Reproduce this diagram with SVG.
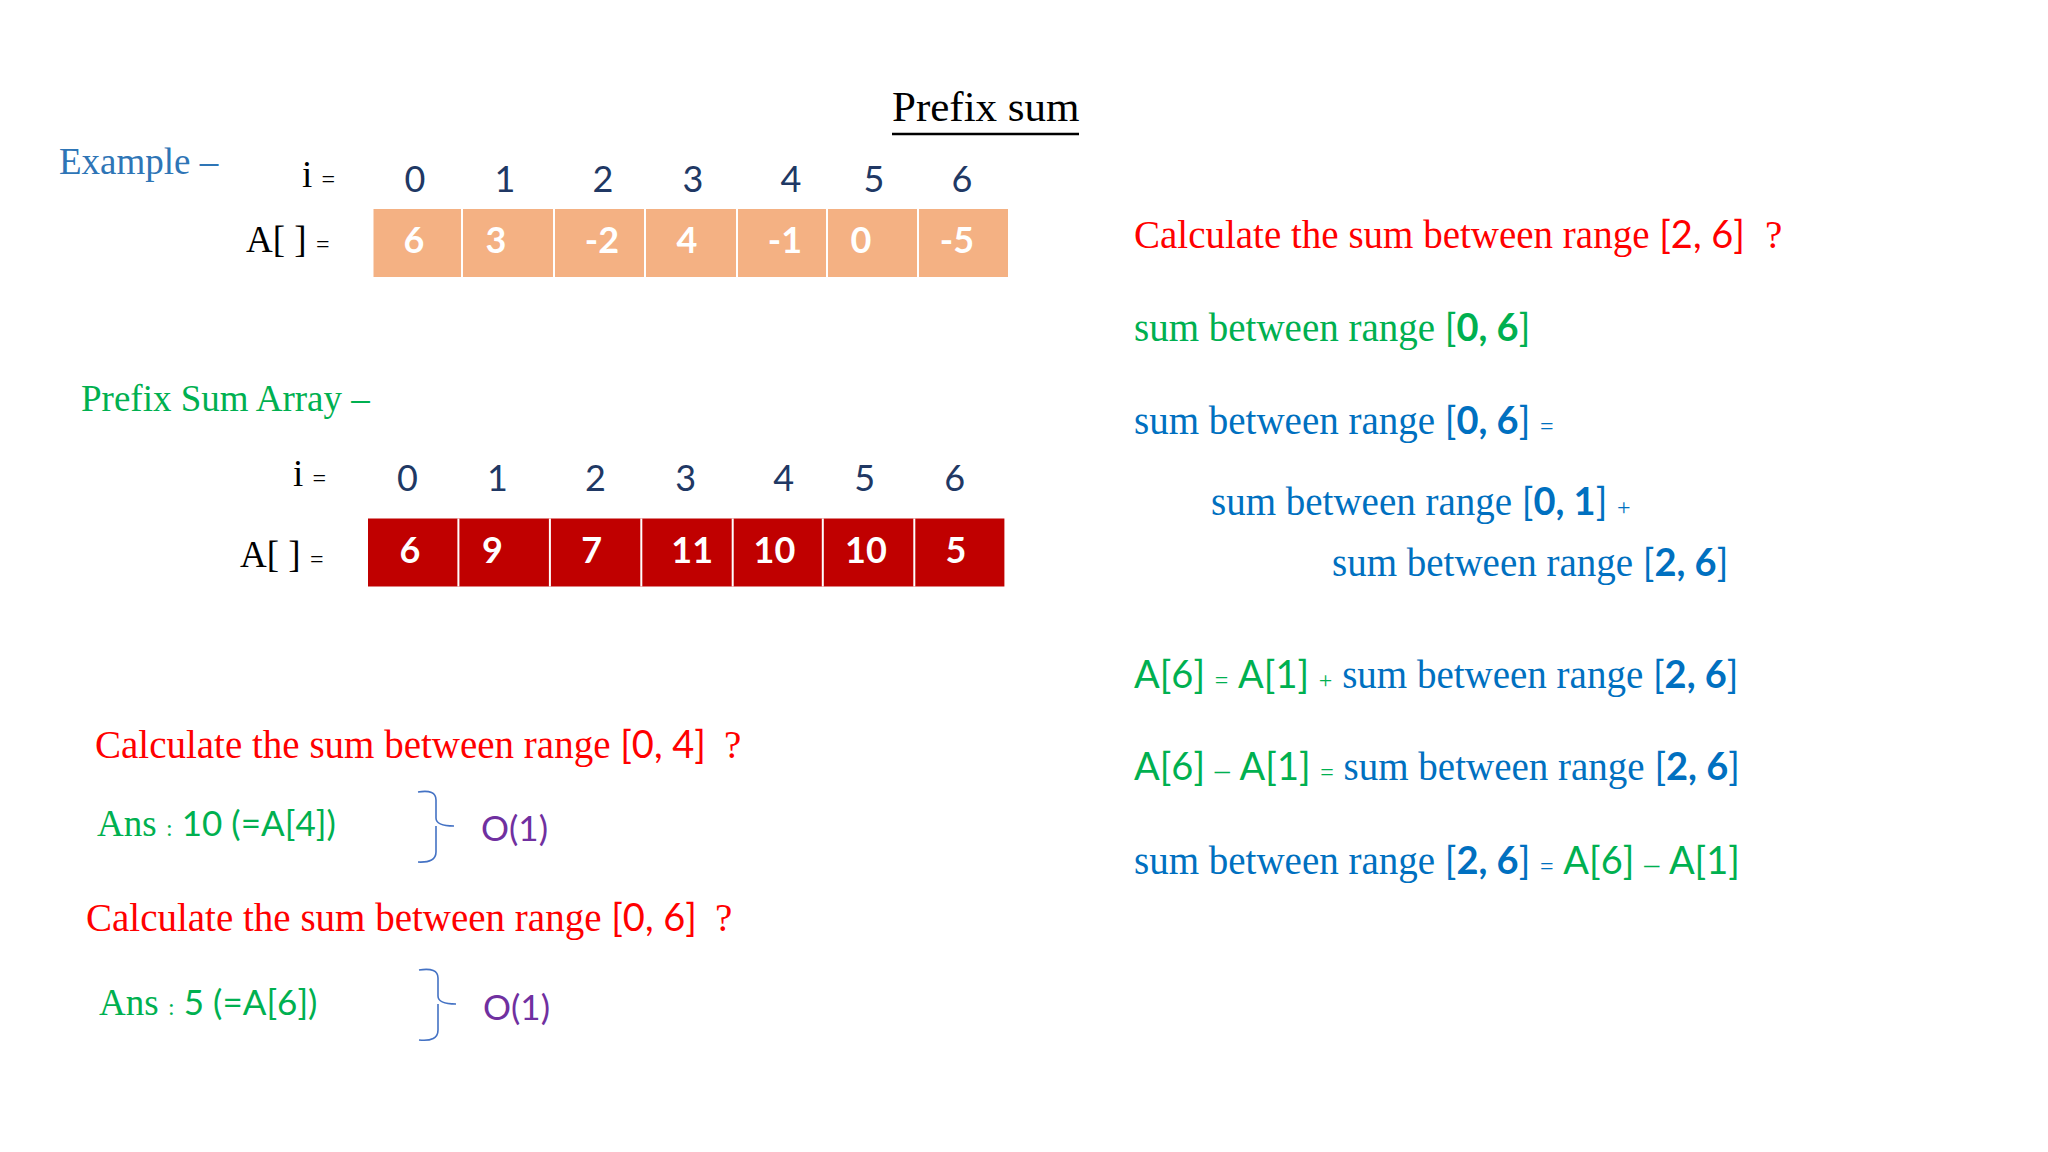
<svg xmlns="http://www.w3.org/2000/svg" width="2048" height="1152" viewBox="0 0 2048 1152">
<style>
.serif{font-family:"Liberation Serif","Times New Roman",serif}
.sans{font-family:Lato,"Open Sans","Liberation Sans",sans-serif}
.idx{font-family:Lato,"Open Sans","Liberation Sans",sans-serif;font-size:36px;fill:#203864;text-anchor:middle}
.val{font-family:Lato,"Open Sans","Liberation Sans",sans-serif;font-size:36px;font-weight:bold;fill:#FFFFFF;text-anchor:middle}
.lbl{font-family:"Liberation Serif","Times New Roman",serif;font-size:37px;fill:#000000}
.sm{font-size:24px}
.dash{font-size:30px}
.red{fill:#FF0000}
.green{fill:#00B050}
.blue{fill:#0070C0}
.purple{fill:#7030A0}
.sep{stroke:#FFFFFF;stroke-width:2}
.brace{fill:none;stroke:#4472C4;stroke-width:1.6}
.b{font-weight:bold}
</style>
<rect width="2048" height="1152" fill="#FFFFFF"/>

<g id="title">
<text x="892" y="121" class="serif" font-size="43" fill="#000">Prefix sum</text>
<line x1="892" y1="134" x2="1079" y2="134" stroke="#000" stroke-width="2.5"/>
</g>

<g id="example">
<text x="59" y="174" class="serif" font-size="37" fill="#2E75B6">Example –</text>
<text x="302" y="187" class="lbl">i <tspan class="sm">=</tspan></text>
<g id="index-row-1">
<text x="415" y="192" class="idx">0</text>
<text x="505" y="192" class="idx">1</text>
<text x="603" y="192" class="idx">2</text>
<text x="693" y="192" class="idx">3</text>
<text x="791" y="192" class="idx">4</text>
<text x="874" y="192" class="idx">5</text>
<text x="962" y="192" class="idx">6</text>
</g>
<text x="246" y="252" class="lbl">A[ ] <tspan class="sm">=</tspan></text>
<g id="array-A">
<rect x="373.5" y="209" width="634.5" height="68" fill="#F4B183"/>
<line x1="462" y1="209" x2="462" y2="277" class="sep"/>
<line x1="554" y1="209" x2="554" y2="277" class="sep"/>
<line x1="645" y1="209" x2="645" y2="277" class="sep"/>
<line x1="737" y1="209" x2="737" y2="277" class="sep"/>
<line x1="827" y1="209" x2="827" y2="277" class="sep"/>
<line x1="918" y1="209" x2="918" y2="277" class="sep"/>
<text x="414" y="253" class="val">6</text>
<text x="496" y="253" class="val">3</text>
<text x="602" y="253" class="val">-2</text>
<text x="687" y="253" class="val">4</text>
<text x="785" y="253" class="val">-1</text>
<text x="861" y="253" class="val">0</text>
<text x="957" y="253" class="val">-5</text>
</g>
</g>

<g id="prefix-array">
<text x="81" y="411" class="serif green" font-size="37">Prefix Sum Array –</text>
<text x="293" y="486" class="lbl">i <tspan class="sm">=</tspan></text>
<g id="index-row-2">
<text x="407.5" y="491" class="idx">0</text>
<text x="497.5" y="491" class="idx">1</text>
<text x="595.5" y="491" class="idx">2</text>
<text x="685.7" y="491" class="idx">3</text>
<text x="783.7" y="491" class="idx">4</text>
<text x="864.6" y="491" class="idx">5</text>
<text x="954.7" y="491" class="idx">6</text>
</g>
<text x="240" y="567" class="lbl">A[ ] <tspan class="sm">=</tspan></text>
<g id="array-P">
<rect x="368" y="518.5" width="636.4" height="68" fill="#C00000"/>
<line x1="458.4" y1="518.5" x2="458.4" y2="586.5" class="sep"/>
<line x1="549.9" y1="518.5" x2="549.9" y2="586.5" class="sep"/>
<line x1="641.3" y1="518.5" x2="641.3" y2="586.5" class="sep"/>
<line x1="732.7" y1="518.5" x2="732.7" y2="586.5" class="sep"/>
<line x1="822.8" y1="518.5" x2="822.8" y2="586.5" class="sep"/>
<line x1="914.3" y1="518.5" x2="914.3" y2="586.5" class="sep"/>
<text x="410" y="563" class="val">6</text>
<text x="492.4" y="563" class="val">9</text>
<text x="591.6" y="563" class="val">7</text>
<text x="692.2" y="563" class="val">11</text>
<text x="774.5" y="563" class="val">10</text>
<text x="866" y="563" class="val">10</text>
<text x="956" y="563" class="val">5</text>
</g>
</g>

<g id="query-1">
<text x="95" y="757.5" class="serif red" font-size="39">Calculate the sum between range <tspan class="sans" font-size="38">[0, 4]</tspan><tspan dx="18">?</tspan></text>
<text x="97" y="836" class="serif green" font-size="37">Ans <tspan class="sm">:</tspan> <tspan class="sans" font-size="35">10 (=A[4])</tspan></text>
<path class="brace" d="M418,792 Q436,789 436,800 L436,818 Q436,826 454,826 M436,826 Q436,828 436,836 L436,852 Q436,863 418,862"/>
<text x="481" y="841" class="sans purple" font-size="35">O(1)</text>
</g>

<g id="query-2">
<text x="86" y="931" class="serif red" font-size="39">Calculate the sum between range <tspan class="sans" font-size="38">[0, 6]</tspan><tspan dx="18">?</tspan></text>
<text x="99" y="1015" class="serif green" font-size="37">Ans <tspan class="sm">:</tspan> <tspan class="sans" font-size="35">5 (=A[6])</tspan></text>
<path class="brace" d="M419,970 Q438,967 438,978 L438,996 Q438,1004 456,1004 M438,1004 Q438,1006 438,1014 L438,1030 Q438,1042 419,1040"/>
<text x="483" y="1020" class="sans purple" font-size="35">O(1)</text>
</g>

<g id="derivation">
<text x="1134" y="248" class="serif red" font-size="39">Calculate the sum between range <tspan class="sans" font-size="38">[2, 6]</tspan><tspan dx="20">?</tspan></text>
<text x="1134" y="341" class="serif green" font-size="39">sum between range <tspan class="sans" font-size="38">[<tspan class="b">0, 6</tspan>]</tspan></text>
<text x="1134" y="434" class="serif blue" font-size="39">sum between range <tspan class="sans" font-size="38">[<tspan class="b">0, 6</tspan>]</tspan> <tspan class="sm">=</tspan></text>
<text x="1211" y="515" class="serif blue" font-size="39">sum between range <tspan class="sans" font-size="38">[<tspan class="b">0, 1</tspan>]</tspan> <tspan class="sm">+</tspan></text>
<text x="1332" y="576" class="serif blue" font-size="39">sum between range <tspan class="sans" font-size="38">[<tspan class="b">2, 6</tspan>]</tspan></text>
<text x="1134" y="688" class="serif green" font-size="39"><tspan class="sans" font-size="38">A[6]</tspan> <tspan class="sm">=</tspan> <tspan class="sans" font-size="38">A[1]</tspan> <tspan class="sm">+</tspan> <tspan class="blue">sum between range <tspan class="sans" font-size="38">[<tspan class="b">2, 6</tspan>]</tspan></tspan></text>
<text x="1134" y="780" class="serif green" font-size="39"><tspan class="sans" font-size="38">A[6]</tspan> <tspan class="dash">–</tspan> <tspan class="sans" font-size="38">A[1]</tspan> <tspan class="sm">=</tspan> <tspan class="blue">sum between range <tspan class="sans" font-size="38">[<tspan class="b">2, 6</tspan>]</tspan></tspan></text>
<text x="1134" y="874" class="serif blue" font-size="39">sum between range <tspan class="sans" font-size="38">[<tspan class="b">2, 6</tspan>]</tspan> <tspan class="sm">=</tspan> <tspan class="green"><tspan class="sans" font-size="38">A[6]</tspan> <tspan class="dash">–</tspan> <tspan class="sans" font-size="38">A[1]</tspan></tspan></text>
</g>
</svg>
